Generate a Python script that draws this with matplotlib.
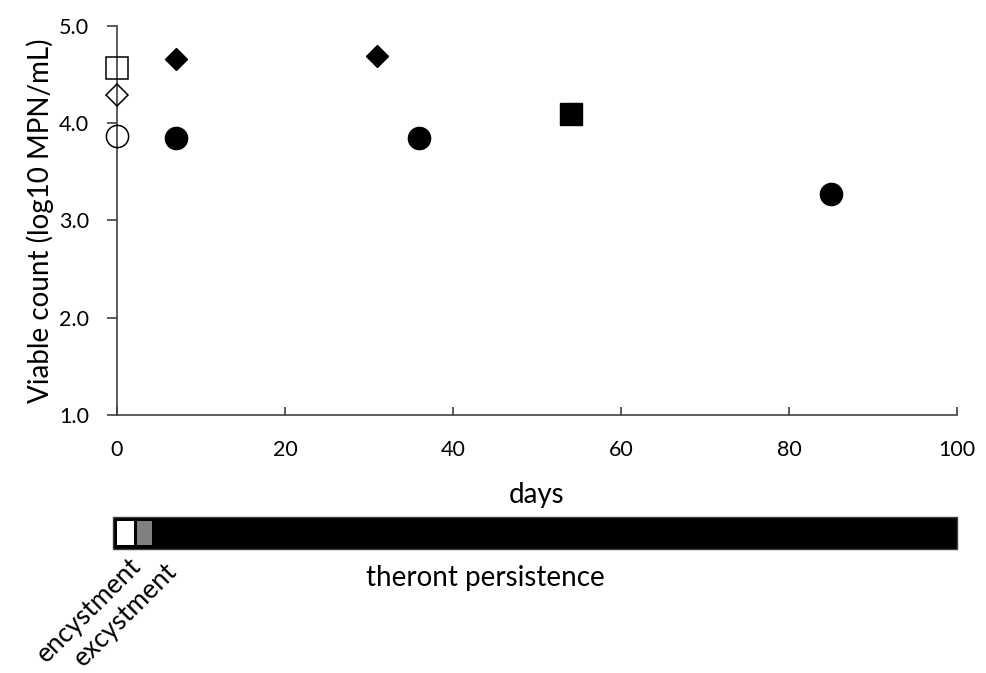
import matplotlib
matplotlib.use("Agg")
import matplotlib.pyplot as plt
from matplotlib.patches import Rectangle

plt.rcParams["font.family"] = ["Lato", "DejaVu Sans"]

# open symbols at day 0
open_days = [0, 0, 0]
open_vals = [4.57, 4.29, 3.87]
open_markers = ["s", "D", "o"]

# filled symbols
diamond_days = [7, 31]
diamond_vals = [4.66, 4.69]
circle_days = [7, 36, 85]
circle_vals = [3.85, 3.85, 3.27]
square_days = [54]
square_vals = [4.10]

# phases for the bar under the plot (start, end, colour)
phase_names = ["encystment", "excystment", "theront persistence"]
phase_start = [0, 2.4, 4.6]
phase_end = [2.4, 4.6, 100]
phase_colors = ["white", "#808080", "black"]

xticks = [0, 20, 40, 60, 80, 100]
yticks = [1.0, 2.0, 3.0, 4.0, 5.0]

fig = plt.figure(figsize=(9.87, 6.73), dpi=100)
ax = fig.add_axes([0.1185, 0.3834, 0.851, 0.578])

ms_round = 16
ms_diam = 10.8
for d, v, m in zip(open_days, open_vals, open_markers):
    ax.plot(d, v, m, ms=ms_diam if m == "D" else ms_round, mfc="none",
            mec="black", mew=1.1, clip_on=False, zorder=5)
ax.plot(diamond_days, diamond_vals, "D", ms=ms_diam, color="black",
        clip_on=False, zorder=5)
ax.plot(circle_days, circle_vals, "o", ms=ms_round, color="black", zorder=5)
ax.plot(square_days, square_vals, "s", ms=ms_round, color="black", zorder=5)

ax.set_xlim(0, 100)
ax.set_ylim(1.0, 5.0)
ax.spines["top"].set_visible(False)
ax.spines["right"].set_visible(False)
for s in ("left", "bottom"):
    ax.spines[s].set_color("#404040")
    ax.spines[s].set_linewidth(1.2)
ax.set_xticks(xticks)
ax.set_yticks(yticks)
ax.set_yticklabels([f"{y:.1f}" for y in yticks])
ax.tick_params(axis="x", direction="in", length=6, width=1.2, color="#404040",
               pad=18, labelsize=15.5)
ax.tick_params(axis="y", direction="out", length=7, width=1.2, color="#404040",
               pad=13, labelsize=15.5)
ax.set_xlabel("days", fontsize=20, labelpad=16)
ax.set_ylabel("Viable count (log10 MPN/mL)", fontsize=20, labelpad=4)

# phase bar
bx = fig.add_axes([0.1165, 0.1842, 0.8530, 0.0475])
bx.set_xlim(0, 100)
bx.set_ylim(0, 1)
bx.axis("off")
bx.add_patch(Rectangle((-0.2, 0), 100.2, 1, facecolor="black",
                       edgecolor="#404040", lw=1, clip_on=False))
for s, e, c in zip(phase_start, phase_end, phase_colors):
    if c == "black":
        continue
    bx.add_patch(Rectangle((s + 0.2, 0.12), e - s - 0.4, 0.76, facecolor=c,
                           edgecolor="none", clip_on=False))

bx.text(44.0, -0.5, phase_names[2], ha="center", va="top", fontsize=20)
bx.text(1.6, -0.12, phase_names[0], ha="right", va="top", rotation=45,
        rotation_mode="anchor", fontsize=19)
bx.text(5.9, -0.3, phase_names[1], ha="right", va="top", rotation=45,
        rotation_mode="anchor", fontsize=19)

fig.savefig("out.png", dpi=100)
